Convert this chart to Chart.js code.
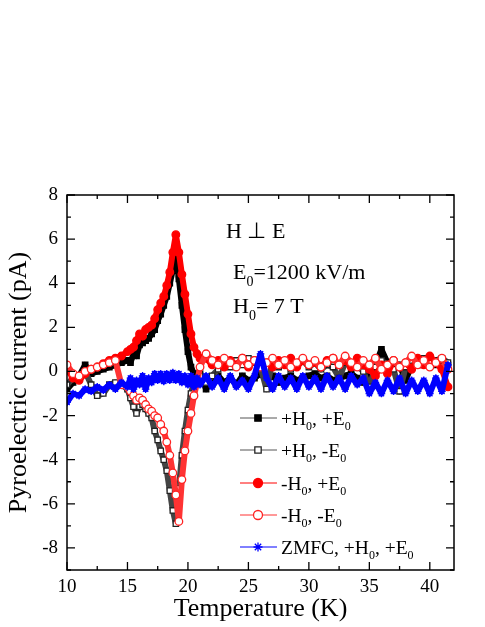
<!DOCTYPE html>
<html>
<head>
<meta charset="utf-8">
<title>Pyroelectric current vs temperature</title>
<script src="https://cdn.jsdelivr.net/npm/chart.js@4.4.1/dist/chart.umd.min.js"></script>
<style>
  html, body { margin: 0; padding: 0; background: #fff; }
  canvas { display: block; }
</style>
</head>
<body>
<canvas id="pyroChart" width="485" height="627"></canvas>
<script>
// temperature grid (K), finer around the transition near 19 K
const temps = [10, 10.5, 11, 11.5, 12, 12.5, 13, 13.5, 14, 14.5, 15,
  15.25, 15.5, 15.75, 16, 16.25, 16.5, 16.75, 17, 17.25, 17.5, 17.75, 18,
  18.25, 18.5, 18.75, 19, 19.25, 19.5, 19.75, 20, 20.25, 20.5, 20.75, 21,
  21.5, 22, 22.5, 23, 23.5, 24, 24.5, 25, 25.5, 26, 26.5, 27, 27.5, 28, 28.5,
  29, 29.5, 30, 30.5, 31, 31.5, 32, 32.5, 33, 33.5, 34, 34.5, 35, 35.5, 36,
  36.5, 37, 37.5, 38, 38.5, 39, 39.5, 40, 40.5, 41, 41.5];

// pyroelectric current (pA)
const posHposE = [-0.8, -0.5, -0.2, 0.3, -0.1, 0.0, 0.1, 0.2, 0.3, 0.4, 0.5,
  0.4, 0.8, 0.7, 1.2, 1.3, 1.4, 1.5, 1.7, 1.9, 2.3, 2.6, 3.0,
  3.4, 4.0, 4.6, 5.2, 4.2, 3.0, 1.9, 0.9, 0.2, -0.1, -0.2, -0.1,
  -0.8, -0.3, -0.2, -0.5, -0.3, -0.6, -0.2, -0.4, -0.3, -0.1, -0.4, -0.2, -0.5, -0.3, -0.2,
  -0.4, -0.3, -0.2, -0.1, -0.3, -0.2, -0.4, -0.3, -0.2, -0.1, -0.3, -0.5, -0.2, 0.3, 1.0,
  0.4, 0.1, 0.3, -0.4, 0.3, 0.5, 0.3, 0.4, 0.3, 0.5, 0.3];

const posHnegE = [-0.6, -0.3, -0.2, 0.0, -0.6, -1.1, -1.0, -0.6, -0.5, -0.6, -0.8,
  -1.2, -1.6, -1.9, -1.6, -1.5, -1.7, -1.9, -2.1, -2.7, -3.1, -3.6, -4.0,
  -4.5, -5.4, -6.3, -6.9, -5.3, -3.8, -2.7, -1.75, -1.0, -0.5, -0.3, -0.2,
  -0.5, -0.2, 0.1, 0.4, 0.2, 0.5, 0.3, 0.6, 0.4, 0.2, -0.8, 0.5, 0.2, 0.4, 0.1,
  0.3, 0.5, 0.2, 0.4, 0.1, 0.3, 0.2, -0.3, 0.4, 0.2, 0.3, 0.0, -0.7, 0.2, 0.5,
  0.3, 0.1, -0.9, 0.2, 0.5, 0.3, 0.6, 0.4, 0.5, 0.6, 0.4];

const negHposE = [0.1, -0.3, -0.4, -0.1, 0.1, 0.2, 0.35, 0.5, 0.6, 0.7, 0.9,
  1.0, 1.1, 1.4, 1.7, 1.6, 1.9, 2.0, 2.1, 2.4, 2.8, 3.1, 3.4,
  3.9, 4.5, 5.4, 6.2, 5.4, 4.4, 3.5, 2.6, 1.7, 1.1, 0.8, 0.6,
  0.6, 0.3, 0.5, 0.2, 0.5, 0.3, 0.6, 0.2, 0.5, 0.3, 0.4, 0.2, 0.5, 0.3, 0.6,
  0.2, 0.5, 0.3, 0.4, 0.2, 0.5, 0.6, 0.3, 0.5, 0.2, 0.6, 0.3, 0.1, -0.2, 0.3,
  -0.1, 0.5, 0.2, 0.4, 0.1, 0.6, 0.3, 0.7, 0.4, 0.1, -0.7];

const negHnegE = [0.3, -0.1, -0.2, 0.0, 0.1, 0.2, 0.3, 0.4, 0.5, -0.6, -0.7,
  -0.9, -1.1, -1.3, -1.2, -1.3, -1.5, -1.7, -1.8, -2.0, -2.1, -2.4, -2.7,
  -3.2, -3.8, -4.6, -5.6, -6.8, -4.9, -3.6, -2.7, -1.9, -1.1, -0.5, 0.2,
  0.8, 0.5, 0.3, 0.6, 0.4, 0.2, 0.6, 0.3, 0.5, 0.2, 0.4, 0.6, 0.3, 0.5, 0.2,
  0.4, 0.6, 0.3, 0.5, 0.2, 0.4, 0.6, 0.3, 0.7, 0.4, 0.2, 0.5, 0.3, 0.6, 0.1,
  0.3, 0.5, 0.2, 0.4, 0.7, 0.3, 0.5, 0.2, 0.4, 0.6, 0.1];

const zmfc = [-1.4, -1.0, -1.1, -0.8, -0.9, -0.7, -0.85, -0.6, -0.8, -0.5, -0.7,
  -0.3, -0.8, -0.4, -0.6, -0.2, -0.8, -0.3, -0.5, -0.1, -0.4, -0.1, -0.45,
  -0.1, -0.4, -0.05, -0.4, -0.1, -0.5, -0.2, -0.6, -0.2, -0.7, -0.3, -0.6,
  -0.2, -0.7, -0.3, -0.8, -0.2, -0.7, -0.4, -0.8, -0.2, 0.8, -0.3, -0.8, -0.2, -0.7, -0.3,
  -0.8, -0.2, -0.7, -0.3, -0.8, -0.2, -0.7, -0.3, -0.8, -0.2, -0.6, -0.3, -1.0, -0.5, -1.0,
  -0.4, -0.9, -0.3, -1.0, -0.4, -0.9, -0.4, -1.0, -0.3, -0.9, 0.3];

const seriesNames = ['+H0, +E0', '+H0, -E0', '-H0, +E0', '-H0, -E0', 'ZMFC, +H0, +E0'];
// same names split into [text, isSubscript] pieces for the legend
const legendParts = [
  [['+H'], ['0', 1], [', +E'], ['0', 1]],
  [['+H'], ['0', 1], [', -E'], ['0', 1]],
  [['-H'], ['0', 1], [', +E'], ['0', 1]],
  [['-H'], ['0', 1], [', -E'], ['0', 1]],
  [['ZMFC, +H'], ['0', 1], [', +E'], ['0', 1]]
];
const xTickLabels = [10, 15, 20, 25, 30, 35, 40];
const yTickLabels = [-8, -6, -4, -2, 0, 2, 4, 6, 8];

const FONT = '"Liberation Serif", "Times New Roman", serif';

const mkSet = (label, values, line, edge, fill, style, order) => ({
  label,
  data: temps.map((t, i) => ({ x: t, y: values[i] })),
  borderColor: line,
  borderWidth: 6,
  borderJoinStyle: 'round',
  borderCapStyle: 'round',
  pointStyle: style,
  pointRadius: 3.8,
  pointBorderWidth: 1.3,
  pointBorderColor: edge,
  pointBackgroundColor: fill,
  backgroundColor: fill,
  order
});

const datasets = [
  mkSet(seriesNames[0], posHposE, '#000', '#000', '#000', 'rect', 4),
  mkSet(seriesNames[1], posHnegE, '#444', '#222', '#fff', 'rect', 3),
  mkSet(seriesNames[2], negHposE, '#f00', '#f00', '#f00', 'circle', 2),
  mkSet(seriesNames[3], negHnegE, '#f33', '#f22', '#fff', 'circle', 1),
  mkSet(seriesNames[4], zmfc, '#00f', '#00f', '#00f', 'star', 0)
];
const legendLine = ['#555', '#555', '#f00', '#f33', '#00f'];

function drawRich(ctx, parts, x, y, size) {
  let cx = x;
  parts.forEach(([txt, sub]) => {
    ctx.font = (sub ? Math.round(size * 0.62) : size) + 'px ' + FONT;
    ctx.fillText(txt, cx, sub ? y + size * 0.3 : y);
    cx += ctx.measureText(txt).width;
  });
}

// frame with inward ticks, annotations and legend
const decorPlugin = {
  id: 'decor',
  afterDraw(chart) {
    const { ctx, chartArea: a, scales: { x, y } } = chart;
    ctx.save();
    ctx.strokeStyle = '#000';
    ctx.lineWidth = 1.5;
    ctx.strokeRect(a.left, a.top, a.right - a.left, a.bottom - a.top);

    ctx.lineWidth = 1.3;
    ctx.beginPath();
    x.ticks.forEach(t => {
      if (t.value % 2.5 !== 0) return;
      const px = x.getPixelForValue(t.value);
      const len = t.value % 5 === 0 ? 8 : 4;
      ctx.moveTo(px, a.bottom); ctx.lineTo(px, a.bottom - len);
      ctx.moveTo(px, a.top); ctx.lineTo(px, a.top + len);
    });
    y.ticks.forEach(t => {
      const py = y.getPixelForValue(t.value);
      const len = t.value % 2 === 0 ? 8 : 4;
      ctx.moveTo(a.left, py); ctx.lineTo(a.left + len, py);
      ctx.moveTo(a.right, py); ctx.lineTo(a.right - len, py);
    });
    ctx.stroke();

    ctx.fillStyle = '#000';
    ctx.textBaseline = 'alphabetic';
    ctx.textAlign = 'left';
    drawRich(ctx, [['H \u22A5 E']], 226, 238, 22);
    drawRich(ctx, [['E'], ['0', 1], ['=1200 kV/m']], 233, 279, 22);
    drawRich(ctx, [['H'], ['0', 1], ['= 7 T']], 233, 313, 22);

    const rowY = [418, 450, 483, 515, 547];
    datasets.forEach((ds, i) => {
      const yy = rowY[i];
      ctx.strokeStyle = legendLine[i];
      ctx.lineWidth = 1;
      ctx.beginPath();
      ctx.moveTo(240, yy); ctx.lineTo(277, yy);
      ctx.stroke();
      ctx.strokeStyle = ds.pointBorderColor;
      ctx.fillStyle = ds.pointBackgroundColor;
      ctx.lineWidth = 1.3;
      Chart.helpers.drawPoint(ctx, { pointStyle: ds.pointStyle, radius: 4.5, borderWidth: 1.3, rotation: 0 }, 258, yy);
      ctx.fillStyle = '#000';
      drawRich(ctx, legendParts[i], 281, yy + 6.5, 19.5);
    });
    ctx.restore();
  }
};

new Chart(document.getElementById('pyroChart'), {
  type: 'line',
  data: { datasets },
  options: {
    responsive: false,
    animation: false,
    layout: { padding: { top: 195, right: 31, left: 0, bottom: 0 } },
    plugins: { legend: { display: false }, tooltip: { enabled: false } },
    scales: {
      x: {
        type: 'linear', min: 10, max: 42,
        grid: { display: false, drawTicks: false, tickLength: 0 },
        border: { display: false },
        ticks: {
          stepSize: 2.5, autoSkip: false, includeBounds: false, maxRotation: 0,
          padding: 6, color: '#000', font: { family: FONT, size: 19 },
          callback: v => xTickLabels.includes(v) ? String(v) : ''
        },
        title: { display: true, text: 'Temperature (K)', color: '#000',
          font: { family: FONT, size: 26 }, padding: { top: 0, bottom: 2 } },
        afterFit: s => { s.height = 57; }
      },
      y: {
        type: 'linear', min: -9, max: 8,
        grid: { display: false, drawTicks: false, tickLength: 0 },
        border: { display: false },
        ticks: {
          stepSize: 1, autoSkip: false, includeBounds: false,
          padding: 9, color: '#000', font: { family: FONT, size: 19 },
          callback: v => yTickLabels.includes(v) ? String(v) : ''
        },
        title: { display: true, text: 'Pyroelectric current (pA)', color: '#000',
          font: { family: FONT, size: 26 }, padding: { top: 4, bottom: 0 } },
        afterFit: s => { s.width = 67; }
      }
    }
  },
  plugins: [decorPlugin]
});
</script>
</body>
</html>
